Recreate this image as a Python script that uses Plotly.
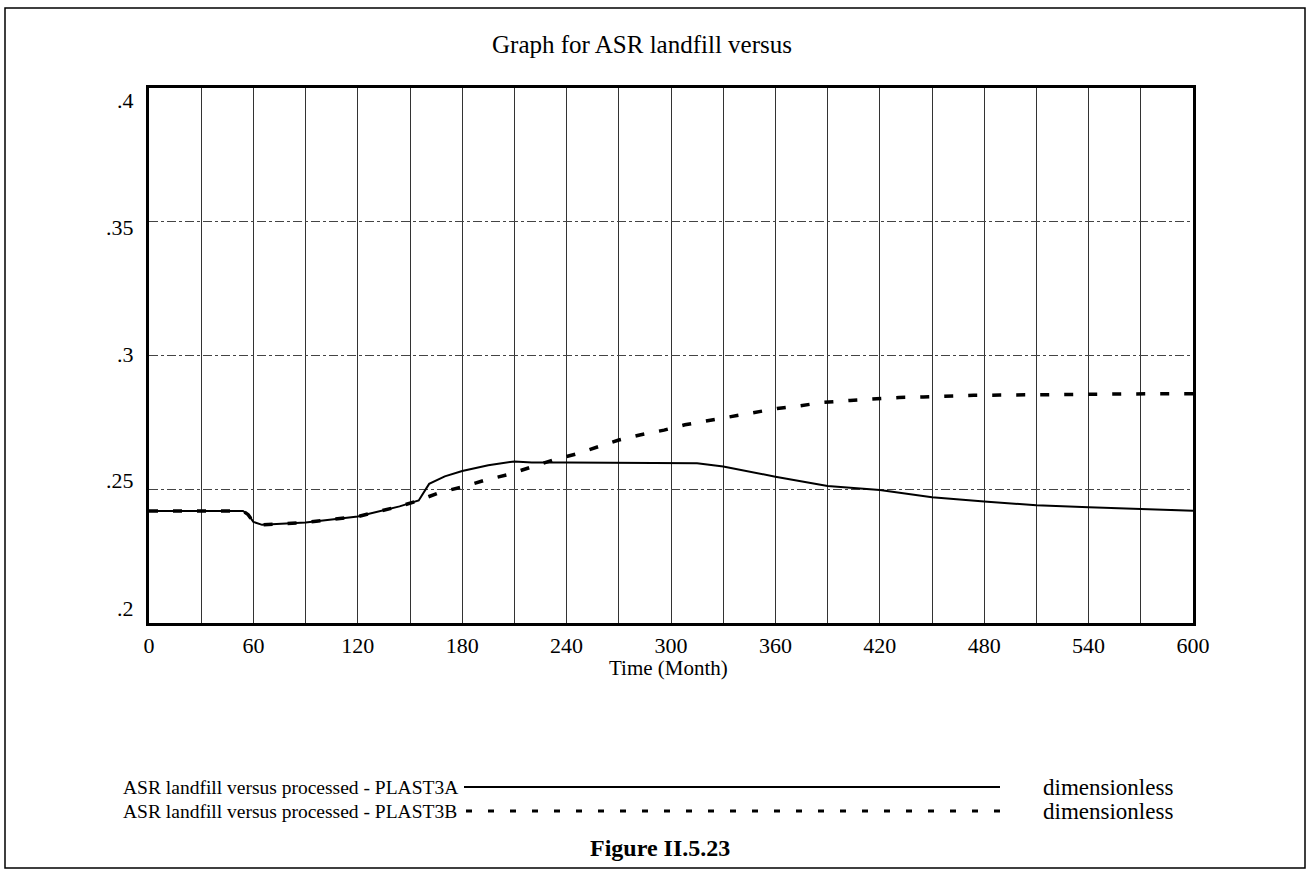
import plotly.graph_objects as go

# ---- data ----
months_a = [0, 54, 57, 60, 65, 90, 120, 144, 155, 158, 161, 170, 180, 195, 210, 220,
            240, 315, 330, 360, 375, 390, 420, 450, 480, 510, 540, 570, 600]
plast3a = [0.2419, 0.2419, 0.2405, 0.2378, 0.2367, 0.2376, 0.2398, 0.2436, 0.2458, 0.2490,
           0.2520, 0.2548, 0.2568, 0.2590, 0.2604, 0.2600, 0.2600, 0.2597, 0.2585, 0.2547,
           0.2530, 0.2512, 0.2497, 0.2470, 0.2454, 0.2440, 0.2433, 0.2427, 0.2420]

months_b = [0, 54, 57, 60, 65, 90, 120, 144, 155, 167, 181, 193, 206, 219, 232, 245, 257,
            270, 282, 296, 308, 321, 334, 347, 361, 374, 388, 403, 417, 431, 445, 460, 474,
            489, 503, 518, 531, 547, 562, 576, 600]
plast3b = [0.2419, 0.2419, 0.2405, 0.2378, 0.2367, 0.2376, 0.2398, 0.2436, 0.2458, 0.2488,
           0.2510, 0.2534, 0.2554, 0.2581, 0.2609, 0.2631, 0.2656, 0.2684, 0.2703, 0.2721,
           0.2741, 0.2756, 0.2773, 0.2787, 0.2802, 0.2812, 0.2825, 0.2832, 0.2838, 0.2843,
           0.2845, 0.2849, 0.2851, 0.2852, 0.2853, 0.2854, 0.2857, 0.2857, 0.2857, 0.2857,
           0.2857]

x_tick_vals = [0, 60, 120, 180, 240, 300, 360, 420, 480, 540, 600]
x_tick_labels = ["0", "60", "120", "180", "240", "300", "360", "420", "480", "540", "600"]
y_tick_vals = [0.4, 0.35, 0.3, 0.25, 0.2]
y_tick_labels = [".4", ".35", ".3", ".25", ".2"]

series_names = ["ASR landfill versus processed - PLAST3A",
                "ASR landfill versus processed - PLAST3B"]
unit_label = "dimensionless"
title_text = "Graph for ASR landfill versus"
x_title = "Time (Month)"
caption = "Figure II.5.23"

# ---- layout geometry (pixels) ----
W, H = 1310, 874
L, R, T, B = 149, 1193, 88, 623
PW, PH = R - L, B - T


def px(x):
    return (x - L) / PW


def py(y):
    return (B - y) / PH


FONT = "Liberation Serif, Times New Roman, serif"

fig = go.Figure()
fig.add_trace(go.Scatter(x=months_a, y=plast3a, mode="lines", name=series_names[0],
                         line=dict(color="black", width=2), showlegend=False))
fig.add_trace(go.Scatter(x=months_b, y=plast3b, mode="lines", name=series_names[1],
                         line=dict(color="black", width=3.5, dash="9px,15px"),
                         showlegend=False))

fig.update_layout(
    width=W, height=H,
    margin=dict(l=L, r=W - R, t=T, b=H - B, pad=0),
    paper_bgcolor="white", plot_bgcolor="white",
    font=dict(family=FONT, color="black", size=21),
    showlegend=False,
)
fig.update_xaxes(
    range=[0, 600], tickvals=x_tick_vals, ticktext=x_tick_labels,
    showgrid=True, gridcolor="#333", gridwidth=1,
    minor=dict(dtick=30, tick0=0, showgrid=True, gridcolor="#333", gridwidth=1),
    showline=True, linecolor="black", linewidth=3, mirror=True,
    ticks="", ticklabelstandoff=1, tickfont=dict(size=22, family=FONT),
    zeroline=False,
)
fig.update_yaxes(
    range=[0.2, 0.4], tickvals=[0.25, 0.3, 0.35], showticklabels=False,
    showgrid=True, gridcolor="#444", gridwidth=1, griddash="dashdot",
    showline=True, linecolor="black", linewidth=3, mirror=True,
    ticks="", zeroline=False,
)

ann = []
# y tick labels (evenly spaced as in the reference)
top_lbl, bot_lbl = 100, 608
n = len(y_tick_labels)
for i, lab in enumerate(y_tick_labels):
    ypix = top_lbl + (bot_lbl - top_lbl) * i / (n - 1)
    ann.append(dict(text=lab, x=px(136), y=py(ypix), xref="paper", yref="paper",
                    xanchor="right", yanchor="middle", showarrow=False,
                    font=dict(size=22, family=FONT)))
# title
ann.append(dict(text=title_text, x=px(642), y=py(45), xref="paper", yref="paper",
                xanchor="center", yanchor="middle", showarrow=False,
                font=dict(size=25, family=FONT)))
# x axis title
ann.append(dict(text=x_title, x=px(668), y=py(668), xref="paper", yref="paper",
                xanchor="center", yanchor="middle", showarrow=False,
                font=dict(size=21, family=FONT)))
# legend texts
leg_y = [787, 811]
for i, nm in enumerate(series_names):
    ann.append(dict(text=nm, x=px(121), y=py(leg_y[i]), xref="paper", yref="paper",
                    xanchor="left", yanchor="middle", showarrow=False,
                    font=dict(size=19.5, family=FONT)))
    ann.append(dict(text=unit_label, x=px(1041), y=py(leg_y[i]), xref="paper", yref="paper",
                    xanchor="left", yanchor="middle", showarrow=False,
                    font=dict(size=23, family=FONT)))
# caption
ann.append(dict(text="<b>" + caption + "</b>", x=px(660), y=py(848), xref="paper",
                yref="paper", xanchor="center", yanchor="middle", showarrow=False,
                font=dict(size=24, family=FONT)))
fig.update_layout(annotations=ann)

shapes = [
    # outer frame
    dict(type="rect", xref="paper", yref="paper", x0=px(5), x1=px(1305), y0=py(868),
         y1=py(8), line=dict(color="black", width=1.5), fillcolor="rgba(0,0,0,0)"),
    # legend sample lines
    dict(type="line", xref="paper", yref="paper", x0=px(464), x1=px(1000),
         y0=py(leg_y[0]), y1=py(leg_y[0]), line=dict(color="black", width=2)),
    dict(type="line", xref="paper", yref="paper", x0=px(466), x1=px(1000),
         y0=py(leg_y[1]), y1=py(leg_y[1]),
         line=dict(color="black", width=3, dash="6px,16px")),
]
fig.update_layout(shapes=shapes)

fig.write_html("out.html", config={"displayModeBar": False},
               post_script="document.body.style.margin='0';"
                           "document.body.style.overflow='hidden';")
